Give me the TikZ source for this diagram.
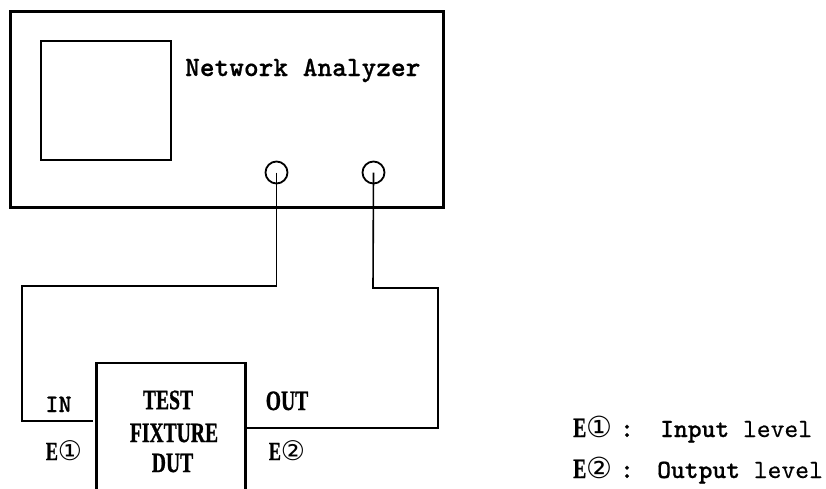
\documentclass[tikz,border=0pt]{standalone}
\usepackage{fontspec}
\newfontfamily\smono[FakeBold=0.3]{lmmono10-regular.otf}
\newfontfamily\smonob[FakeBold=0.6]{lmmonolt10-bold.otf}
\newfontfamily\condf[FakeStretch=0.7,FakeBold=0.8]{Liberation Serif}
\newfontfamily\symf{DejaVu Sans}
\begin{document}
\begin{tikzpicture}[x=1pt,y=-1pt,
  box/.style={draw,line width=2.4pt,inner sep=0pt},
  scr/.style={draw,line width=2pt,inner sep=0pt},
  port/.style={draw,circle,line width=1.8pt,minimum size=22pt,inner sep=0pt},
  wire/.style={line width=1.6pt},
  lab/.style={inner sep=0pt},
  bold/.style={lab,font=\condf\bfseries\fontsize{28}{28}\selectfont},
  mono/.style={lab,font=\smono\fontsize{26.3}{26.3}\selectfont}]
\useasboundingbox (0,0) rectangle (826,488);
% analyzer
\node[box,line width=3pt,minimum width=433pt,minimum height=196pt] (ana) at (226.5,109) {};
\node[scr,minimum width=130pt,minimum height=119pt] (screen) at (106,100.5) {};
\node[lab,font=\smonob\fontsize{28}{28}\selectfont,anchor=base west] (title) at (185,76) {Network Analyzer};
\node[port] (p1) at (276.5,172.5) {};
\node[port] (p2) at (373.5,172.5) {};
% DUT
\node[box,minimum width=149pt,minimum height=150pt] (dut) at (171,438) {};
\node[bold] (test) at (168,400) {TEST};
\node[bold] (fix) at (174,433) {FIXTURE};
\node[bold] (dutl) at (172.5,463) {DUT};
% labels
\node[lab,font=\smonob\fontsize{25}{25}\selectfont,anchor=base] (in) at (58.5,412) {IN};
\node[bold,anchor=base] (out) at (287,410) {OUT};
\node[lab,anchor=base] (e1) at (64,460) {{\condf\bfseries\fontsize{26}{26}\selectfont E}{\symf\fontsize{27}{27}\selectfont ①}};
\node[lab,anchor=base] (e2) at (287,460) {{\condf\bfseries\fontsize{26}{26}\selectfont E}{\symf\fontsize{27}{27}\selectfont ②}};
% wires
\coordinate (inend) at (92.5,421);
\draw[wire] (p1.center) -- (276.5,286) -- (22,286) -- (22,421) -- (inend);
\draw[wire] (p2.center) -- (373,288) -- (438,288) -- (438,428) -- (dut.east |- 0,428);
% legend
\node[lab,anchor=base west] (l1e) at (573,437) {{\condf\bfseries\fontsize{28}{28}\selectfont E}{\symf\fontsize{29}{29}\selectfont ①}};
\node[lab,font=\smonob\fontsize{28}{28}\selectfont,anchor=base] (l1c) at (627,437) {:};
\node[mono,anchor=base west] (l1t) at (660,437) {{\smonob Input} level};
\node[lab,anchor=base west] (l2e) at (573,478) {{\condf\bfseries\fontsize{28}{28}\selectfont E}{\symf\fontsize{29}{29}\selectfont ②}};
\node[lab,font=\smonob\fontsize{28}{28}\selectfont,anchor=base] (l2c) at (627,478) {:};
\node[mono,anchor=base west] (l2t) at (657,478) {{\smonob Output} level};
\end{tikzpicture}
\end{document}
